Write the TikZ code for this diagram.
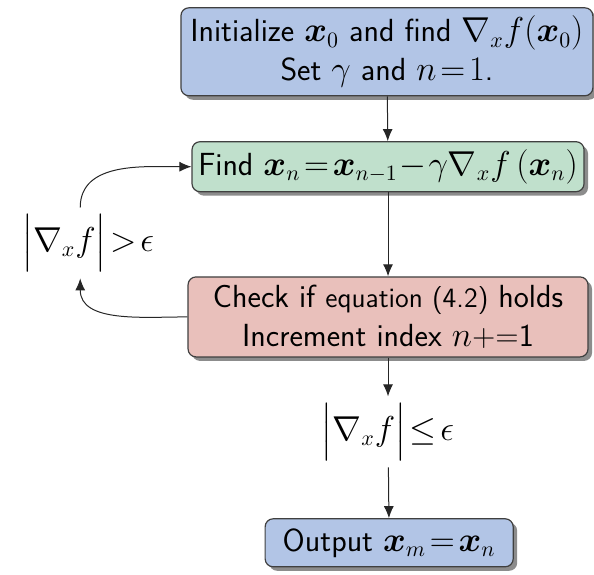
\documentclass[tikz,border=0pt]{standalone}
\usepackage{amsmath,amssymb}
\usepackage{bm}
\usepackage{tikz}
\usetikzlibrary{arrows.meta,positioning,shadows}
\usepackage{xcolor}
\definecolor{boxblue}{RGB}{178,197,230}
\definecolor{boxgreen}{RGB}{192,224,204}
\definecolor{boxred}{RGB}{233,192,187}
\newcommand{\xb}{\bm{x}}
\newcommand{\tightmath}{\thickmuskip=2mu plus 1mu\medmuskip=1mu}

\begin{document}
\begin{tikzpicture}[
    gdbox/.style={rectangle, draw=black!75, line width=0.6pt, rounded corners=4pt,
                 align=center, font=\sffamily\fontsize{16}{19.5}\selectfont\tightmath, inner sep=3pt,
                 drop shadow={shadow xshift=2pt, shadow yshift=-2pt, fill=black!45, opacity=1}},
    cond/.style={font=\fontsize{16}{19.5}\selectfont\tightmath, inner sep=2pt},
    arr/.style={-{Latex[length=6pt,width=5pt]}, line width=0.5pt, black!85}
]
    \useasboundingbox (0,0) rectangle (10.44,-10.10);
    \node[gdbox, fill=boxblue, minimum width=7.24cm, minimum height=44pt] (init) at (6.80,-0.91)
        {Initialize $\xb_0$ and find $\nabla_x f(\xb_0)$\\Set $\gamma$ and $n=1$.};
    \node[gdbox, fill=boxgreen, minimum width=6.89cm, minimum height=25pt] (find) at (6.82,-2.93)
        {Find $\xb_n=\xb_{n-1}-\gamma\nabla_x f\,(\xb_n)$};
    \node[gdbox, fill=boxred, minimum width=7.03cm, minimum height=40pt] (check) at (6.82,-5.57)
        {Check if {\fontsize{14}{16}\selectfont equation (4.2)} holds\\Increment index $n$+=1};
    \node[cond] (stop) at (6.82,-7.59) {$\Bigl|\nabla_x f\Bigr|\leq\epsilon$};
    \node[gdbox, fill=boxblue, minimum width=4.36cm, minimum height=24pt] (out) at (6.84,-9.54)
        {Output $\xb_m=\xb_n$};
    \node[cond] (loop) at (1.55,-4.27) {$\Bigl|\nabla_x f\Bigr|>\epsilon$};
    \draw[arr] (init) -- (find);
    \draw[arr] (find) -- (check);
    \draw[arr] (check) -- (stop);
    \draw[arr] (stop) -- (out);
    \draw[arr] (check.west) to[out=180,in=-90] (loop.south -| 1.41,0);
    \draw[arr] (loop.north -| 1.41,0) to[out=90,in=180] (find.west);
\end{tikzpicture}
\end{document}
